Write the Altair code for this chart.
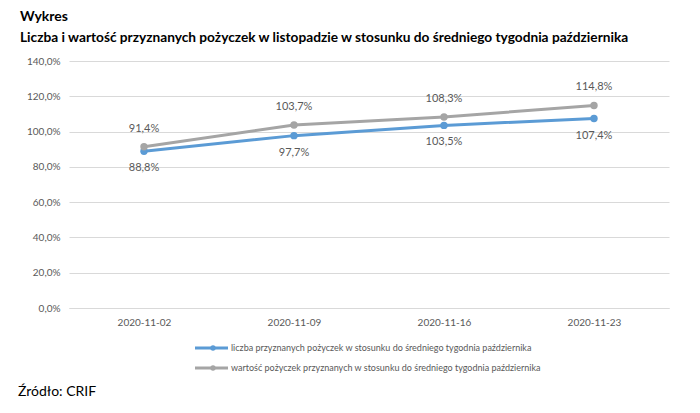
import altair as alt
import pandas as pd

dates = ["2020-11-02", "2020-11-09", "2020-11-16", "2020-11-23"]
liczba = [0.888, 0.977, 1.035, 1.074]
wartosc = [0.914, 1.037, 1.083, 1.148]
series_names = [
    "liczba przyznanych pożyczek w stosunku do średniego tygodnia października",
    "wartość pożyczek przyznanych w stosunku do średniego tygodnia października",
]
colors = ["#5B9BD5", "#A5A5A5"]
source_text = ["Źródło: CRIF"]

rows = []
for d, a, b in zip(dates, liczba, wartosc):
    rows.append({"date": d, "value": a, "series": series_names[0],
                 "label": f"{a*100:.1f}%".replace(".", ",")})
    rows.append({"date": d, "value": b, "series": series_names[1],
                 "label": f"{b*100:.1f}%".replace(".", ",")})
df = pd.DataFrame(rows)

FONT = "Lato"
TXT = "#595959"

x = alt.X("date:O", title=None, scale=alt.Scale(type="point", padding=0.5),
          axis=alt.Axis(labelAngle=0, ticks=False, domain=True, domainColor="#D9D9D9",
                        labelPadding=9, labelFontSize=10, labelColor=TXT, labelFont=FONT))
y = alt.Y("value:Q", title=None, scale=alt.Scale(domain=[0, 1.4], nice=False),
          axis=alt.Axis(values=[0, 0.2, 0.4, 0.6, 0.8, 1.0, 1.2, 1.4],
                        labelExpr="replace(format(datum.value, '.1%'), '.', ',')",
                        ticks=False, domain=False, gridColor="#D9D9D9", gridWidth=1,
                        labelPadding=9, labelFontSize=10, labelColor=TXT, labelFont=FONT))
color = alt.Color("series:N", scale=alt.Scale(domain=series_names, range=colors), legend=None)

base = alt.Chart(df)
lines = base.mark_line(strokeWidth=3).encode(x=x, y=y, color=color)
points = base.mark_point(filled=True, size=55, opacity=1).encode(x=x, y=y, color=color)
lab_top = base.transform_filter(alt.datum.series == series_names[1]).mark_text(
    dy=-18, fontSize=11, color=TXT, font=FONT).encode(x=x, y=y, text="label:N")
lab_bot = base.transform_filter(alt.datum.series == series_names[0]).mark_text(
    dy=17, fontSize=11, color=TXT, font=FONT).encode(x=x, y=y, text="label:N")

# manual legend below the plot
legend_layers = []
leg_df = pd.DataFrame({"series": series_names})
for i, name in enumerate(series_names):
    ly = 287 + 20 * i
    lb = alt.Chart(leg_df).transform_filter(alt.datum.series == name)
    legend_layers.append(lb.mark_rule(strokeWidth=3).encode(
        x=alt.value(126), x2=alt.value(159), y=alt.value(ly), color=color))
    legend_layers.append(lb.mark_point(filled=True, size=28, opacity=1).encode(
        x=alt.value(144), y=alt.value(ly), color=color))
    legend_layers.append(lb.mark_text(align="left", baseline="middle", fontSize=9,
                                      color=TXT, font=FONT).encode(
        x=alt.value(162), y=alt.value(ly), text="series:N"))

footer = alt.Chart(pd.DataFrame({"t": source_text})).mark_text(
    align="left", baseline="middle", fontSize=14, color="black", font=FONT
).encode(text="t:N", x=alt.value(-51), y=alt.value(331))

chart = alt.layer(lines, points, lab_top, lab_bot, *legend_layers, footer).properties(
    width=600, height=247,
    autosize=alt.AutoSizeParams(type="none"),
    padding={"left": 61, "top": 53, "right": 23, "bottom": 105},
    title=alt.TitleParams(
        text="Wykres",
        subtitle="Liczba i wartość przyznanych pożyczek w listopadzie w stosunku do średniego tygodnia października",
        anchor="start", frame="group", dx=-49, offset=11,
        font=FONT, fontSize=14, fontWeight="bold", color="black",
        subtitleFont=FONT, subtitleFontSize=13.7, subtitleFontWeight="bold",
        subtitleColor="black", subtitlePadding=7,
    ),
).configure_view(stroke=None)

chart.save("out.html", embed_options={"renderer": "svg", "actions": False})
